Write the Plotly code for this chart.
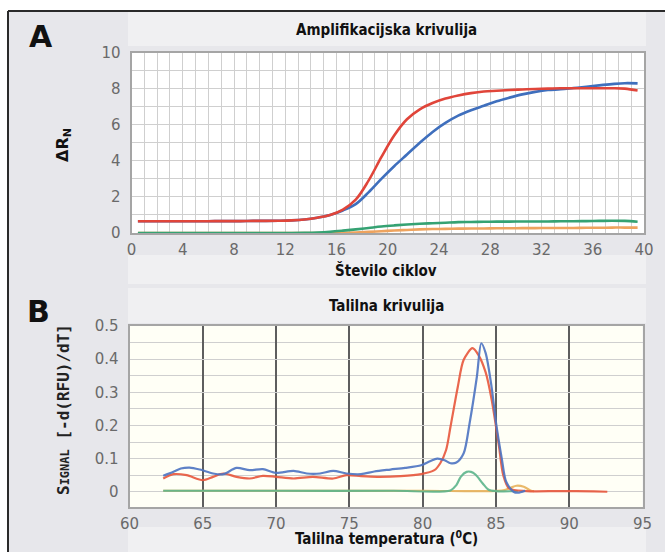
import plotly.graph_objects as go

W, H = 665, 552

# ---------------- Panel A data (amplification curves) ----------------
cycles = [c + 0.5 for c in range(40)]
amp_red = [0.65, 0.65, 0.65, 0.65, 0.65, 0.65, 0.66, 0.66, 0.66, 0.67, 0.67, 0.68, 0.70,
           0.75, 0.85, 1.00, 1.30, 1.85, 2.90, 4.20, 5.40, 6.30, 6.85, 7.20, 7.45, 7.62,
           7.75, 7.84, 7.88, 7.92, 7.95, 7.98, 8.00, 8.02, 8.02, 8.02, 8.02, 8.02, 8.00, 7.90]
amp_blue = [0.65, 0.65, 0.65, 0.65, 0.65, 0.65, 0.66, 0.66, 0.66, 0.67, 0.67, 0.68, 0.70,
            0.75, 0.85, 1.00, 1.25, 1.60, 2.25, 3.00, 3.70, 4.35, 5.00, 5.60, 6.10, 6.50,
            6.80, 7.05, 7.30, 7.50, 7.68, 7.82, 7.92, 7.96, 8.03, 8.10, 8.18, 8.25, 8.30, 8.29]
amp_green = [0.0, 0.0, 0.0, 0.0, 0.0, 0.0, 0.0, 0.0, 0.0, 0.0, 0.0, 0.0, 0.0,
             0.01, 0.03, 0.07, 0.13, 0.20, 0.28, 0.36, 0.42, 0.47, 0.51, 0.54, 0.57, 0.60,
             0.61, 0.62, 0.63, 0.63, 0.64, 0.64, 0.64, 0.65, 0.65, 0.66, 0.67, 0.68, 0.67, 0.62]
amp_orange = [0.0, 0.0, 0.0, 0.0, 0.0, 0.0, 0.0, 0.0, 0.0, 0.0, 0.0, 0.0, 0.0,
              0.0, 0.0, 0.0, 0.01, 0.03, 0.06, 0.10, 0.14, 0.17, 0.20, 0.22, 0.23, 0.24,
              0.25, 0.25, 0.26, 0.26, 0.27, 0.27, 0.28, 0.28, 0.28, 0.29, 0.29, 0.30, 0.30, 0.30]

# ---------------- Panel B data (melting curves) ----------------
melt_blue_t = [62.3, 63.0, 63.5, 64.1, 64.8, 65.7, 66.4, 67.3, 68.2, 69.1, 70.0, 71.2, 72.1,
               73.0, 73.9, 74.8, 75.8, 76.7, 77.8, 78.8, 79.9, 80.5, 81.0, 81.5, 81.9, 82.3,
               82.8, 83.2, 83.7, 84.0, 84.3, 84.7, 85.0, 85.4, 85.7, 86.2, 86.5, 87.0]
melt_blue_v = [0.048, 0.060, 0.070, 0.073, 0.067, 0.055, 0.053, 0.072, 0.065, 0.068, 0.057,
               0.063, 0.055, 0.055, 0.063, 0.055, 0.053, 0.061, 0.067, 0.072, 0.080, 0.092,
               0.100, 0.095, 0.086, 0.088, 0.116, 0.206, 0.347, 0.448, 0.418, 0.317, 0.210,
               0.100, 0.030, 0.000, -0.003, 0.003]
melt_red_t = [62.3, 63.0, 63.9, 65.0, 65.7, 66.4, 67.3, 68.2, 69.1, 70.0, 71.2, 72.5, 73.9,
              74.8, 75.8, 76.9, 78.5, 79.9, 80.8, 81.2, 81.6, 81.9, 82.4, 82.8, 83.4, 83.8,
              84.3, 84.7, 85.2, 85.5, 85.9, 87.1, 89.4, 91.7, 92.6]
melt_red_v = [0.040, 0.053, 0.050, 0.035, 0.045, 0.055, 0.045, 0.040, 0.048, 0.045, 0.040,
              0.045, 0.040, 0.050, 0.047, 0.045, 0.047, 0.053, 0.065, 0.086, 0.126, 0.196,
              0.317, 0.398, 0.433, 0.413, 0.360, 0.280, 0.140, 0.050, 0.010, 0.002, 0.002,
              0.001, 0.000]
melt_green_t = [62.3, 70.0, 78.0, 81.9, 82.3, 82.6, 83.0, 83.3, 83.6, 84.1, 84.5, 85.0, 86.5]
melt_green_v = [0.003, 0.003, 0.003, 0.004, 0.020, 0.045, 0.060, 0.060, 0.052, 0.025, 0.006,
                0.002, 0.002]
melt_orange_t = [62.3, 70.0, 80.0, 85.5, 86.0, 86.4, 86.9, 87.4, 87.6]
melt_orange_v = [0.003, 0.003, 0.003, 0.004, 0.012, 0.018, 0.015, 0.003, 0.002]

# ---------------- Text ----------------
title_a = "Amplifikacijska krivulija"
title_b = "Talilna krivulija"
xtitle_a = "Število ciklov"
xtitle_b = "Talilna temperatura (<sup>0</sup>C)"
ytitle_a = "<b>ΔR<sub>N</sub></b>"
ytitle_b = "<b>S<span style='font-size:12px'>IGNAL</span> [-d(RFU)/dT]</b>"
xticks_b = [60, 65, 70, 75, 80, 85, 90, 95]
yticks_b = [0, 0.1, 0.2, 0.3, 0.4, 0.5]
yticklabels_b = ["0", "0.1", "0.2", "0.3", "0.4", "0.5"]

RED = "#e0453a"
BLUE = "#3f6fbd"
GREEN = "#35a273"
ORANGE = "#eea35e"
RED_B = "#e8573c"
BLUE_B = "#4d74c2"
GREEN_B = "#5db58c"
ORANGE_B = "#e8b25a"


def px_x(p):
    return p / W


def px_y(p):
    return 1 - p / H


fig = go.Figure()

# Panel A traces
for vals, col in [(amp_orange, ORANGE), (amp_green, GREEN), (amp_blue, BLUE), (amp_red, RED)]:
    fig.add_trace(go.Scatter(x=cycles, y=vals, mode="lines", line=dict(color=col, width=2.6, shape="spline"),
                             xaxis="x", yaxis="y", showlegend=False, hoverinfo="skip"))

# Panel B traces
for t, v, col in [(melt_orange_t, melt_orange_v, ORANGE_B), (melt_green_t, melt_green_v, GREEN_B),
                  (melt_red_t, melt_red_v, RED_B), (melt_blue_t, melt_blue_v, BLUE_B)]:
    fig.add_trace(go.Scatter(x=t, y=v, mode="lines", line=dict(color=col, width=2.2, shape="spline", smoothing=0.8),
                             xaxis="x2", yaxis="y2", showlegend=False, hoverinfo="skip", opacity=0.9))

tickfont = dict(family="DejaVu Sans", size=15, color="#6a6a6a")
gridc = "#cfcfcf"
framec = "#a5a5a5"

fig.update_layout(
    width=W, height=H,
    margin=dict(l=0, r=0, t=0, b=0, pad=0, autoexpand=False),
    paper_bgcolor="#e7e7eb",
    plot_bgcolor="#ffffff",
    xaxis=dict(domain=[px_x(131.5), px_x(644)], range=[0, 40], anchor="y", automargin=False,
               tickmode="linear", tick0=0, dtick=4, showgrid=True, gridcolor=gridc, gridwidth=1,
               minor=dict(dtick=1, tick0=0, showgrid=True, gridcolor=gridc, gridwidth=1),
               showline=True, mirror=True, linecolor=framec, linewidth=2, zeroline=False,
               ticks="", tickfont=tickfont, ticklabelstandoff=2),
    yaxis=dict(domain=[px_y(233), px_y(52.5)], range=[0, 10], anchor="x", automargin=False,
               tickmode="linear", tick0=0, dtick=2, showgrid=True, gridcolor=gridc, gridwidth=1,
               minor=dict(dtick=1, tick0=0, showgrid=True, gridcolor=gridc, gridwidth=1),
               showline=True, mirror=True, linecolor=framec, linewidth=2, zeroline=False,
               ticks="", tickfont=tickfont, ticklabelstandoff=6),
    xaxis2=dict(domain=[px_x(129.5), px_x(642.5)], range=[60, 95], anchor="y2", automargin=False,
                tickmode="array", tickvals=xticks_b, showgrid=True, gridcolor="#5e5e5e", gridwidth=2,
                showline=True, mirror=True, linecolor=framec, linewidth=2, zeroline=False,
                ticks="", tickfont=tickfont, ticklabelstandoff=2),
    yaxis2=dict(domain=[px_y(507), px_y(326)], range=[-0.046, 0.5], anchor="x2", automargin=False,
                tickmode="array", tickvals=yticks_b, ticktext=yticklabels_b,
                showgrid=True, gridcolor=gridc, gridwidth=1,
                minor=dict(dtick=0.05, tick0=0, showgrid=True, gridcolor=gridc, gridwidth=1),
                showline=True, mirror=True, linecolor=framec, linewidth=2, zeroline=False,
                ticks="", tickfont=tickfont, ticklabelstandoff=6),
)

# background bands
bands = [(128, 12, 646, 46), (128, 255, 646, 284), (128, 288, 646, 323), (128, 527, 646, 552)]
shapes = []
# white strip above / left of the frame
shapes.append(dict(type="rect", xref="paper", yref="paper", x0=0, x1=1, y0=px_y(11), y1=1,
                   fillcolor="#ffffff", line=dict(width=0), layer="below"))
shapes.append(dict(type="rect", xref="paper", yref="paper", x0=0, x1=px_x(8), y0=0, y1=1,
                   fillcolor="#ffffff", line=dict(width=0), layer="below"))
for x0, y0, x1, y1 in bands:
    shapes.append(dict(type="rect", xref="paper", yref="paper", x0=px_x(x0), x1=px_x(x1),
                       y0=px_y(y1), y1=px_y(y0), fillcolor="#f0f0f2", line=dict(width=0), layer="below"))
# plot B background tint
shapes.append(dict(type="rect", xref="x2 domain", yref="y2 domain", x0=0, x1=1, y0=0, y1=1,
                   fillcolor="#fffff6", line=dict(width=0), layer="below"))
# outer frame
shapes.append(dict(type="line", xref="paper", yref="paper", x0=px_x(8), x1=px_x(8), y0=0, y1=px_y(11),
                   line=dict(color="#2a2a2a", width=2)))
shapes.append(dict(type="line", xref="paper", yref="paper", x0=px_x(8), x1=1, y0=px_y(11), y1=px_y(11),
                   line=dict(color="#2a2a2a", width=2)))
fig.update_layout(shapes=shapes)

tfont = dict(family="DejaVu Sans Condensed, DejaVu Sans, sans-serif", size=15, color="#111111", weight="bold")
ann = [
    dict(text=title_a, x=px_x(386), y=px_y(30)),
    dict(text=xtitle_a, x=px_x(386), y=px_y(270)),
    dict(text=title_b, x=px_x(386), y=px_y(306)),
    dict(text=xtitle_b, x=px_x(386), y=px_y(538)),
]
annotations = []
for a in ann:
    annotations.append(dict(text=a["text"], x=a["x"], y=a["y"], xref="paper", yref="paper",
                            showarrow=False, xanchor="center", yanchor="middle", font=tfont))
annotations.append(dict(text=ytitle_a, x=px_x(64), y=px_y(145), xref="paper", yref="paper", showarrow=False,
                        textangle=-90, xanchor="center", yanchor="middle",
                        font=dict(family="DejaVu Sans", size=16, color="#111111")))
annotations.append(dict(text=ytitle_b, x=px_x(63), y=px_y(410), xref="paper", yref="paper", showarrow=False,
                        textangle=-90, xanchor="center", yanchor="middle",
                        font=dict(family="DejaVu Sans Mono, DejaVu Sans", size=16, color="#222222")))
letter_font = dict(family="DejaVu Sans", size=30, color="#111111")
annotations.append(dict(text="<b>A</b>", x=px_x(41), y=px_y(37), xref="paper", yref="paper", showarrow=False,
                        xanchor="center", yanchor="middle", font=letter_font))
annotations.append(dict(text="<b>B</b>", x=px_x(38), y=px_y(311), xref="paper", yref="paper", showarrow=False,
                        xanchor="center", yanchor="middle", font=letter_font))
fig.update_layout(annotations=annotations)

fig.write_html("out.html", config={"displayModeBar": False},
               post_script="document.body.style.margin='0px';document.body.style.padding='0px';")
